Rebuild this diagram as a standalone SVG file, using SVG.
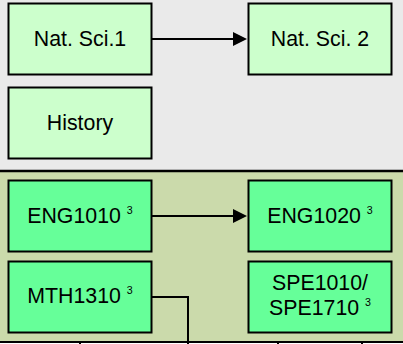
<svg xmlns="http://www.w3.org/2000/svg" width="403" height="344" viewBox="0 0 403 344">
<style>
.t{font-family:"Liberation Sans",Arial,sans-serif;font-size:21.33px;fill:#000;text-anchor:middle}
.s{font-size:10.67px}
.lg{fill:#ccffcc;stroke:#000;stroke-width:2}
.dg{fill:#66ff99;stroke:#000;stroke-width:2}
.c{fill:none;stroke:#000;stroke-width:2}
</style>
<defs>
<marker id="ah" markerUnits="userSpaceOnUse" markerWidth="14" markerHeight="14" refX="7" refY="7" orient="auto">
<path d="M0,0 L14,7 L0,14 z" fill="#000"/>
</marker>
</defs>
<g id="background">
<rect x="0" y="0" width="403" height="171" fill="#eaeaea"/>
<rect x="0" y="171" width="403" height="171" fill="#cbdaab"/>
<rect x="0" y="342" width="403" height="2" fill="#ffffff"/>
<line x1="0" y1="171" x2="403" y2="171" stroke="#000" stroke-width="2.5"/>
<line x1="0" y1="342" x2="403" y2="342" stroke="#000" stroke-width="2"/>
</g>
<g id="connectors">
<line class="c" x1="152" y1="39" x2="240" y2="39" marker-end="url(#ah)"/>
<line class="c" x1="152" y1="216" x2="240" y2="216" marker-end="url(#ah)"/>
<polyline class="c" points="152,297 188,297 188,344"/>
<line class="c" x1="80" y1="342" x2="80" y2="344"/>
<line class="c" x1="278" y1="342" x2="278" y2="344"/>
<line class="c" x1="362" y1="342" x2="362" y2="344"/>
</g>
<g id="natsci1">
<rect class="lg" x="8.5" y="3.5" width="143" height="71"/>
<text class="t" x="80" y="46">Nat. Sci.1</text>
</g>
<g id="natsci2">
<rect class="lg" x="248.5" y="3.5" width="143" height="71"/>
<text class="t" x="320" y="46">Nat. Sci. 2</text>
</g>
<g id="history">
<rect class="lg" x="8.5" y="87.5" width="143" height="71"/>
<text class="t" x="80" y="130">History</text>
</g>
<g id="eng1010">
<rect class="dg" x="8.5" y="180.5" width="143" height="71"/>
<text class="t" x="80" y="222.5">ENG1010 <tspan class="s" dy="-9">3</tspan></text>
</g>
<g id="eng1020">
<rect class="dg" x="248.5" y="180.5" width="143" height="71"/>
<text class="t" x="320" y="222.5">ENG1020 <tspan class="s" dy="-9">3</tspan></text>
</g>
<g id="mth1310">
<rect class="dg" x="8.5" y="261.5" width="143" height="71"/>
<text class="t" x="80" y="302.7">MTH1310 <tspan class="s" dy="-9">3</tspan></text>
</g>
<g id="spe1010">
<rect class="dg" x="248.5" y="261.5" width="143" height="71"/>
<text class="t" x="320" y="290.3">SPE1010/</text>
<text class="t" x="320" y="314.7">SPE1710 <tspan class="s" dy="-9">3</tspan></text>
</g>
</svg>
